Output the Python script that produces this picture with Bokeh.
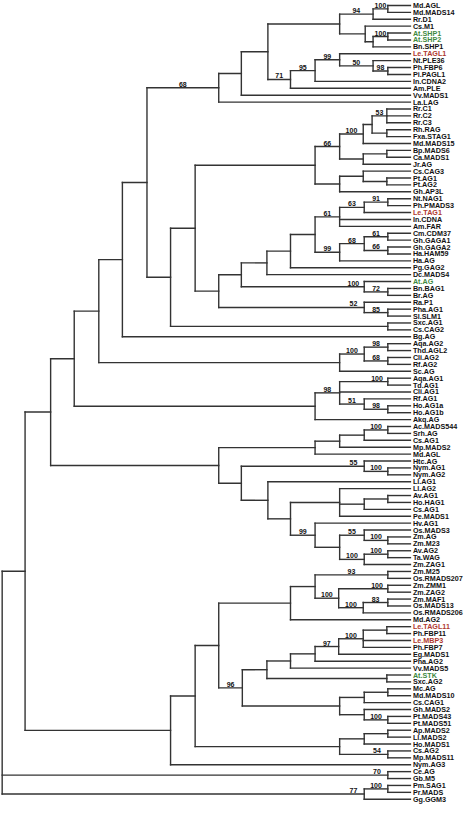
from bokeh.plotting import figure
from bokeh.models import Range1d, ColumnDataSource
from bokeh.core.properties import value
from bokeh.embed import file_html
from bokeh.resources import INLINE

# ---- data ----
leaves = ["Md.AGL", "Md.MADS14", "Rr.D1", "Cs.M1", "At.SHP1", "At.SHP2", "Bn.SHP1",
          "Le.TAGL1", "Nt.PLE36", "Ph.FBP6", "Pi.PAGL1", "In.CDNA2", "Am.PLE", "Vv.MADS1",
          "La.LAG", "Rr.C1", "Rr.C2", "Rr.C3", "Rh.RAG", "Fxa.STAG1", "Md.MADS15",
          "Bp.MADS6", "Ca.MADS1", "Jr.AG", "Cs.CAG3", "Pt.AG1", "Pt.AG2", "Gh.AP3L",
          "Nt.NAG1", "Ph.PMADS3", "Le.TAG1", "In.CDNA", "Am.FAR", "Cm.CDM37", "Gh.GAGA1",
          "Gh.GAGA2", "Ha.HAM59", "Ha.AG", "Pg.GAG2", "Dc.MADS4", "At.AG", "Bn.BAG1",
          "Br.AG", "Ra.P1", "Pha.AG1", "Sl.SLM1", "Sxc.AG1", "Cs.CAG2", "Bg.AG",
          "Aqa.AG2", "Thd.AGL2", "Cli.AG2", "Rf.AG2", "Sc.AG", "Aqa.AG1", "Td.AG1",
          "Cli.AG1", "Rf.AG1", "Ho.AG1a", "Ho.AG1b", "Akq.AG", "Ac.MADS544", "Srh.AG",
          "Cs.AG1", "Mp.MADS2", "Md.AGL", "Htc.AG", "Nym.AG1", "Nym.AG2", "Ll.AG1",
          "Ll.AG2", "Av.AG1", "Ho.HAG1", "Cs.AG1", "Pe.MADS1", "Hv.AG1", "Os.MADS3",
          "Zm.AG", "Zm.M23", "Av.AG2", "Ta.WAG", "Zm.ZAG1", "Zm.M25", "Os.RMADS207",
          "Zm.ZMM1", "Zm.ZAG2", "Zm.MAF1", "Os.MADS13", "Os.RMADS206", "Md.AG2",
          "Le.TAGL11", "Ph.FBP11", "Le.MBP3", "Ph.FBP7", "Eg.MADS1", "Pha.AG2",
          "Vv.MADS5", "At.STK", "Sxc.AG2", "Mc.AG", "Md.MADS10", "Cs.CAG1", "Gh.MADS2",
          "Pt.MADS43", "Pt.MADS51", "Ap.MADS2", "Ll.MADS2", "Ho.MADS1", "Cs.AG2",
          "Mp.MADS11", "Nym.AG3", "Ce.AG", "Gb.M5", "Pm.SAG1", "Pr.MADS", "Gg.GGM3"]

red_leaves = ["Le.TAGL1", "Le.TAG1", "Le.TAGL11", "Le.MBP3"]
green_leaves = ["At.SHP1", "At.SHP2", "At.AG", "At.STK"]

tip_depth = 417

# internal nodes: (id, children [int = leaf number, str = node id], depth, bootstrap)
nodes = [
    ("a1", [1, 2], 394, 100), ("a2", ["a1", 3], 379, 94),
    ("a3", [5, 6], 394, 100), ("a4", ["a3", 7], 379, None),
    ("a5", [4, "a4"], 371, None), ("a6", ["a2", "a5"], 345, None),
    ("b1", [10, 11], 394, 98), ("b2", [9, "b1"], 379, 50),
    ("b3", [8, "b2"], 345, 99), ("b4", ["b3", 12], 320, 95),
    ("b5", ["b4", 13], 295, 71), ("c1", ["a6", "b5"], 272, None),
    ("c2", ["c1", 14], 245, None), ("c3", ["c2", 15], 222, 68),
    ("d1", [16, 17, 18], 393, 53), ("d2", [19, 20], 393, None),
    ("d3", ["d1", "d2"], 378, None), ("d4", ["d3", 21], 369, 100),
    ("d5", [22, 23], 393, None), ("d6", ["d5", 24], 369, None),
    ("d7", ["d4", "d6"], 345, 66), ("d8", [26, 27], 393, None),
    ("d9", [25, "d8"], 369, None), ("d10", ["d9", 28], 345, None),
    ("d11", ["d7", "d10"], 320, None),
    ("e1", [29, 30], 394, 91), ("e2", ["e1", 31], 370, 63),
    ("e3", ["e2", 32, 33], 345, 61), ("e4", [34, 35], 394, 61),
    ("e5", [36, 37], 394, 66), ("e6", ["e4", "e5"], 370, 68),
    ("e7", ["e6", 38], 345, 99), ("e8", ["e3", "e7"], 320, None),
    ("e9", ["e8", 39], 295, None), ("e10", ["e9", 40], 271, None),
    ("f1", [42, 43], 394, 72), ("f2", [41, "f1"], 370, 100),
    ("f3", ["e10", "f2"], 245, None),
    ("g1", [45, 46], 394, 85), ("g2", [44, "g1"], 370, 52),
    ("g3", ["f3", "g2"], 222, None), ("h1", ["d11", "g3"], 198, None),
    ("h2", [47, 48], 394, None), ("h3", ["h1", "h2"], 173, None),
    ("h4", ["c3", "h3"], 149, None), ("h5", ["h4", 49], 124, None),
    ("i1", [50, 51], 394, 98), ("i2", [52, 53], 394, 68),
    ("i3", ["i1", "i2"], 370, 100), ("i4", ["i3", 54], 345, None),
    ("i5", ["h5", "i4"], 100, None),
    ("j1", [55, 56], 394, 100), ("j2", [59, 60], 394, 98),
    ("j3", [58, "j2"], 370, 51), ("j4", ["j1", 57, "j3"], 345, 98),
    ("j5", ["j4", 61], 320, None), ("k1", ["i5", "j5"], 75, None),
    ("m1", [62, 63], 394, 100), ("m2", ["m1", 64], 370, None),
    ("m3", ["m2", 65], 345, None), ("m4", ["m3", 66], 320, None),
    ("n1", [68, 69], 394, 100), ("n2", [67, "n1"], 370, 55),
    ("o1", [72, 73], 394, None), ("o2", ["o1", 74], 370, None),
    ("o3", [71, "o2", 75], 345, None),
    ("p1", [78, 79], 394, 100), ("p2", [77, "p1"], 370, 55),
    ("p3", [80, 81], 394, 100), ("p4", ["p3", 82], 370, 100),
    ("p5", ["p2", "p4"], 345, None), ("p6", [76, "p5"], 320, 99),
    ("p7", ["o3", "p6"], 295, None), ("p8", [70, "p7"], 272, None),
    ("n3", ["n2", "p8"], 245, None), ("q1", ["m4", "n3"], 222, None),
    ("k2", ["k1", "q1"], 51, None),
    ("r1", [83, 84], 394, 93), ("r2", [85, 86], 394, 100),
    ("r3", [87, 88], 394, 83), ("r4", ["r3", 89], 369, 100),
    ("r5", ["r2", "r4"], 344, 100), ("r6", ["r1", "r5"], 320, None),
    ("r7", ["r6", 90], 295, None),
    ("s1", [91, 92], 393, None), ("s2", ["s1", 93, 94], 369, 100),
    ("s3", ["s2", 95], 344, 97), ("s4", ["s3", 96], 320, None),
    ("s5", ["s4", 97], 295, None), ("s6", [98, 99], 393, None),
    ("s7", ["s5", "s6"], 271, None),
    ("t1", [100, 101], 394, None), ("t2", ["t1", 102], 370, None),
    ("t3", [104, 105], 394, 100), ("t4", [103, "t3"], 370, None),
    ("t5", ["t2", "t4"], 345, None), ("t6", ["s7", "t5"], 246, 96),
    ("u1", ["r7", "t6"], 222, None),
    ("v1", [106, 107], 394, None), ("v2", ["v1", 108], 370, None),
    ("v3", [109, 110], 394, 54), ("v4", ["v2", "v3"], 345, None),
    ("w1", ["u1", "v4"], 198, None), ("w2", ["w1", 111], 173, None),
    ("x1", ["k2", "w2"], 25, None),
    ("y1", [112, 113], 394, 70), ("y2", [114, 115], 394, 100),
    ("y3", ["y2", 116], 370, 77),
    ("root", ["x1", "y1", "y3"], 1.7, None),
]

# ---- layout ----
nleaf = len(leaves)
ypos = {i: float(i) for i in range(1, nleaf + 1)}
xpos = {i: float(tip_depth) for i in range(1, nleaf + 1)}
parent = {}
for nid, ch, d, s in nodes:
    xpos[nid] = d
    ypos[nid] = (ypos[ch[0]] + ypos[ch[-1]]) / 2.0
    for c in ch:
        parent[c] = nid

x0, y0, x1, y1 = [], [], [], []
for nid, ch, d, s in nodes:
    x0.append(d); y0.append(ypos[ch[0]]); x1.append(d); y1.append(ypos[ch[-1]])
    for c in ch:
        x0.append(d); y0.append(ypos[c]); x1.append(xpos[c]); y1.append(ypos[c])

# bootstrap label placement: centred on short branches, close to the node otherwise
bx, by, bt = [], [], []
for nid, ch, d, s in nodes:
    if s is None:
        continue
    pd = xpos[parent[nid]]
    L = d - pd
    near = (40 < L < 60) or L > 100
    bx.append(d - 11 if near else (d + pd) / 2.0)
    by.append(ypos[nid])
    bt.append(str(s))

lcol = []
for name in leaves:
    if name in red_leaves:
        lcol.append("#b0392f")
    elif name in green_leaves:
        lcol.append("#3f8a3f")
    else:
        lcol.append("#111111")

spacing = 6.971
p = figure(width=464, height=807,
           x_range=Range1d(0, 472),
           y_range=Range1d(1 + (815 - 5) / spacing, 1 - 5 / spacing),
           output_backend="svg", toolbar_location=None, min_border=0,
           x_axis_location=None, y_axis_location=None)
p.grid.visible = False
p.outline_line_color = None
p.background_fill_color = "white"

p.segment(x0=x0, y0=y0, x1=x1, y1=y1, line_color="#333333", line_width=1.4,
          line_cap="square")

src_l = ColumnDataSource(dict(x=[tip_depth] * nleaf, y=list(range(1, nleaf + 1)),
                              t=leaves, c=lcol))
p.text(x="x", y="y", text="t", source=src_l, text_color="c", x_offset=2.5,
       text_baseline="middle", text_align="left", text_font_size="7.2px",
       text_font_style="bold", text_font=value("Liberation Sans"))

src_b = ColumnDataSource(dict(x=bx, y=by, t=bt))
p.text(x="x", y="y", text="t", source=src_b, text_color="#111111", y_offset=-1,
       text_baseline="bottom", text_align="center", text_font_size="7px",
       text_font_style="bold", text_font=value("Liberation Sans"))

open("out.html", "w").write(file_html(p, INLINE))
